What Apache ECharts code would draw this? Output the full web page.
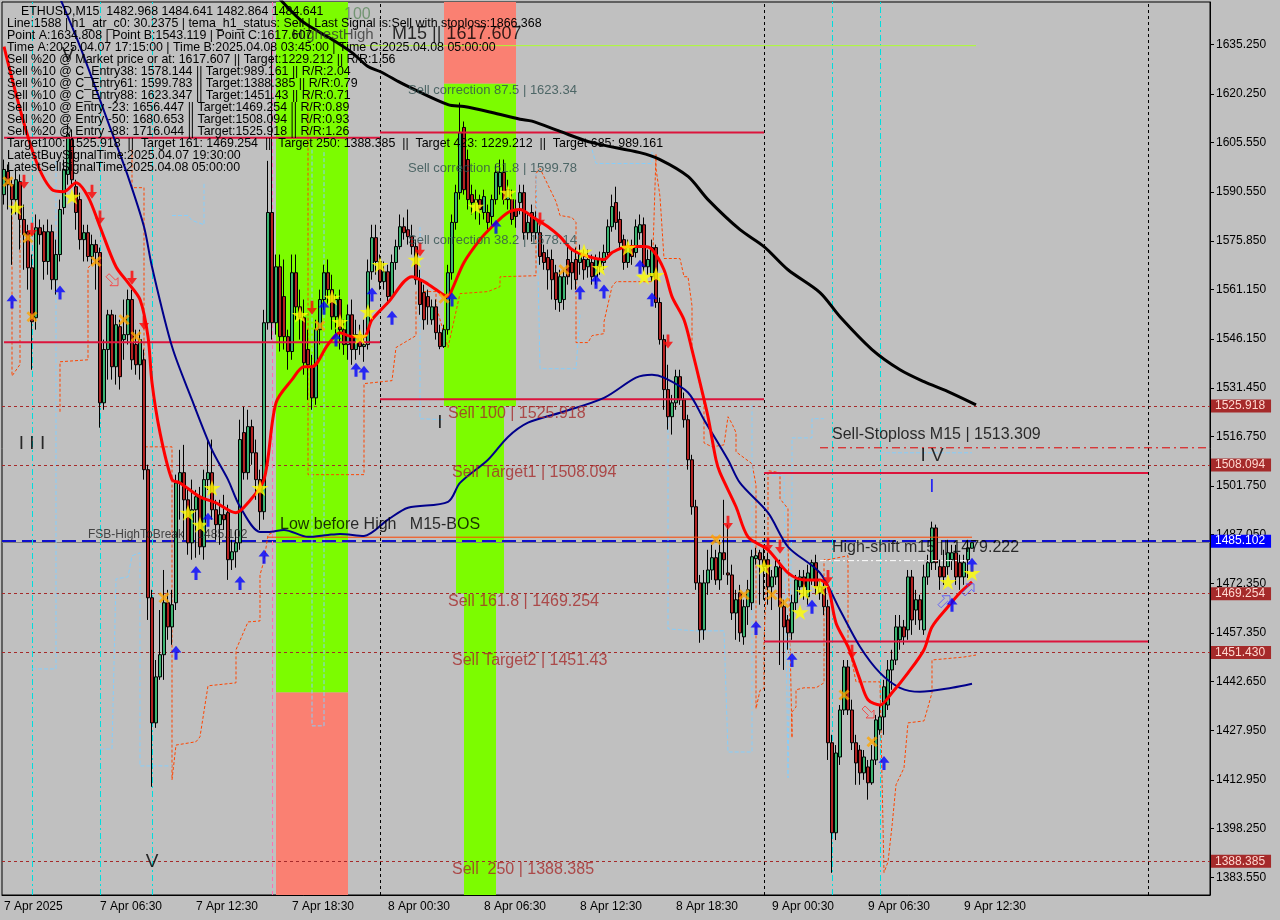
<!DOCTYPE html>
<html><head><meta charset="utf-8">
<script src="https://cdn.jsdelivr.net/npm/echarts@6/dist/echarts.min.js"></script>
<style>html,body{margin:0;padding:0;background:#c0c0c0;}#chart{width:1280px;height:920px;}</style>
</head><body><div id="chart"></div>
<script>
const FONT = '"Liberation Sans", Arial, sans-serif';
// ---------- candles (M15, first bar 7 Apr 00:30) ----------
const opens = [1589.8,1596.8,1592.8,1588.3,1593.7,1582.3,1578.6,1567.7,1552.6,1579.8,1578.6,1569.6,1578.6,1564.1,1571.7,1585.9,1595.9,1606.4,1592.2,1588.3,
1576.2,1578.3,1571.1,1574.7,1572.3,1526.9,1543.0,1553.5,1537.8,1549.9,1546.0,1547.5,1558.1,1544.5,1538.4,1539.9,1506.7,1468.0,1430.2,1444.1,
1450.8,1466.5,1459.2,1466.5,1502.7,1505.8,1497.6,1484.6,1494.6,1498.5,1483.4,1503.7,1505.8,1494.6,1490.1,1493.1,1493.7,1479.5,1481.9,1484.6,
1517.9,1505.8,1519.7,1511.8,1503.7,1494.0,1551.1,1584.4,1551.1,1568.0,1559.0,1546.9,1542.4,1566.2,1555.9,1552.6,1543.0,1537.8,1528.4,1549.0,
1558.1,1566.2,1561.1,1552.9,1558.1,1549.0,1544.5,1553.5,1543.0,1547.5,1543.9,1544.5,1566.5,1576.8,1569.6,1563.5,1566.5,1559.0,1569.3,1574.1,
1580.1,1579.2,1577.1,1574.1,1564.1,1560.2,1559.0,1552.0,1555.9,1548.1,1543.9,1549.0,1566.2,1581.4,1590.4,1610.1,1600.4,1589.8,1587.4,1588.3,
1584.4,1584.4,1583.2,1588.3,1592.2,1596.5,1588.3,1588.3,1585.3,1587.4,1590.4,1578.3,1584.4,1578.3,1578.3,1572.3,1570.8,1570.2,1566.2,1557.2,
1558.1,1570.2,1569.3,1570.2,1569.3,1570.2,1568.0,1569.3,1565.0,1568.0,1569.3,1572.3,1580.1,1587.4,1582.3,1576.2,1569.3,1574.1,1572.3,1578.3,
1580.7,1568.0,1565.0,1573.8,1557.2,1546.0,1530.9,1522.7,1526.9,1534.8,1527.8,1521.8,1509.7,1495.5,1472.5,1458.3,1472.5,1476.4,1480.1,1473.4,
1481.6,1475.5,1474.9,1463.4,1469.5,1456.2,1465.3,1466.5,1479.8,1481.6,1479.5,1479.5,1471.3,1474.3,1477.1,1465.3,1461.3,1457.4,1466.5,1471.3,
1474.3,1468.3,1473.4,1478.6,1469.5,1471.3,1465.3,1424.2,1397.0,1419.9,1434.1,1447.1,1434.1,1424.2,1422.0,1415.1,1416.9,1412.1,1419.0,1428.1,
1432.0,1435.6,1446.2,1449.2,1455.3,1459.2,1458.3,1474.3,1464.3,1467.4,1458.3,1474.3,1478.6,1489.1,1477.4,1477.4,1477.4,1479.5,1481.6,1478.6,
1474.3,1479.5,1482.968];
const closes = [1597.4,1592.8,1588.3,1594.3,1582.3,1577.7,1567.7,1551.4,1579.8,1577.7,1569.6,1578.6,1564.1,1571.7,1585.3,1597.4,1608.0,1594.3,1584.4,1576.2,
1578.3,1571.1,1574.7,1572.3,1526.9,1543.0,1553.5,1537.8,1550.5,1534.8,1547.5,1558.1,1539.9,1538.4,1546.0,1506.7,1468.0,1430.2,1444.1,1450.8,
1466.5,1459.2,1465.9,1502.7,1505.8,1497.6,1484.6,1494.6,1498.5,1483.4,1503.7,1505.8,1494.6,1490.1,1493.1,1491.6,1479.5,1481.9,1484.6,1515.8,
1505.8,1519.7,1511.8,1503.7,1494.0,1551.1,1584.4,1551.1,1568.0,1546.9,1546.9,1542.4,1566.2,1555.9,1552.6,1539.0,1538.4,1528.4,1549.0,1558.1,
1566.2,1561.1,1552.9,1558.1,1549.0,1544.5,1553.5,1543.0,1547.5,1543.9,1544.5,1566.5,1576.8,1569.6,1563.5,1566.5,1559.0,1569.3,1574.1,1580.1,
1578.3,1577.1,1574.1,1564.1,1556.6,1552.0,1555.9,1555.9,1548.1,1543.9,1549.0,1566.2,1581.4,1590.4,1608.5,1591.3,1588.3,1587.4,1588.3,1585.3,
1589.2,1581.4,1588.3,1596.5,1596.5,1588.3,1591.3,1582.3,1583.2,1590.4,1578.3,1581.4,1578.3,1582.3,1571.1,1569.3,1567.1,1564.1,1558.1,1565.0,
1565.0,1565.0,1566.2,1564.1,1572.3,1567.1,1570.2,1565.0,1570.2,1570.2,1572.3,1580.1,1586.2,1581.4,1575.3,1569.3,1574.1,1571.1,1580.1,1580.7,
1568.0,1570.2,1573.8,1557.2,1546.0,1530.9,1522.7,1526.9,1534.8,1527.8,1521.8,1509.7,1495.5,1472.5,1458.3,1472.5,1476.4,1480.1,1473.4,1481.6,
1479.5,1474.9,1463.4,1467.4,1457.4,1465.3,1470.4,1480.4,1480.7,1479.5,1477.4,1471.3,1474.3,1477.4,1465.3,1459.2,1457.4,1466.5,1473.4,1474.3,
1471.3,1475.5,1478.6,1471.3,1471.3,1465.3,1424.2,1397.0,1421.1,1434.1,1447.1,1434.1,1424.2,1418.1,1415.1,1419.9,1412.1,1419.0,1431.1,1432.0,
1441.1,1446.2,1449.2,1459.2,1459.2,1456.2,1474.3,1461.3,1467.4,1461.3,1474.3,1478.6,1489.1,1478.6,1474.3,1474.3,1481.6,1481.6,1474.3,1474.3,
1478.6,1483.1,1484.641];
const lows = [1586.8,1585.3,1568.6,1583.8,1573.2,1567.1,1561.1,1536.9,1549.0,1574.7,1564.1,1565.6,1561.1,1559.6,1569.6,1583.8,1592.8,1592.8,1579.2,1573.2,
1569.6,1569.6,1568.6,1561.1,1519.4,1524.8,1533.9,1533.9,1532.4,1530.9,1539.9,1544.5,1536.9,1535.4,1533.9,1503.7,1461.3,1410.9,1428.7,1443.2,
1443.2,1455.3,1453.8,1464.3,1491.6,1485.5,1481.0,1479.5,1480.1,1481.0,1479.5,1500.6,1491.6,1485.5,1484.0,1488.5,1473.4,1476.4,1477.1,1482.5,
1503.7,1503.7,1508.2,1497.6,1488.5,1491.6,1549.0,1546.0,1547.5,1542.4,1543.0,1536.9,1539.9,1552.0,1546.0,1535.4,1527.8,1524.8,1526.3,1544.5,
1555.0,1556.6,1549.0,1547.5,1543.0,1541.4,1539.9,1538.4,1539.9,1541.4,1539.3,1543.0,1564.1,1565.6,1561.1,1561.1,1556.6,1558.1,1567.1,1573.2,
1576.2,1574.7,1571.7,1562.6,1553.5,1549.0,1550.5,1550.5,1546.0,1543.1,1543.5,1547.5,1564.1,1579.2,1588.3,1589.8,1585.3,1583.8,1582.3,1580.7,
1582.3,1579.2,1580.7,1586.8,1589.8,1586.8,1585.3,1580.7,1579.8,1583.8,1576.2,1576.2,1575.6,1576.2,1568.6,1567.1,1561.1,1558.1,1555.0,1554.4,
1555.0,1562.6,1561.1,1561.1,1565.6,1564.1,1564.7,1562.6,1562.6,1565.6,1567.1,1570.8,1578.6,1579.2,1573.2,1567.1,1567.7,1568.6,1570.8,1576.2,
1566.5,1565.6,1563.5,1555.6,1544.5,1524.8,1518.8,1517.3,1524.8,1526.3,1519.4,1506.7,1493.1,1470.4,1454.4,1455.3,1468.9,1473.4,1471.9,1470.4,
1474.9,1471.9,1461.3,1455.3,1454.7,1453.8,1459.8,1464.3,1478.0,1465.9,1467.4,1465.9,1464.3,1471.9,1447.7,1446.2,1452.3,1455.3,1464.3,1468.9,
1467.4,1465.9,1471.9,1468.9,1467.4,1462.8,1419.0,1384.9,1394.8,1417.5,1432.6,1432.6,1422.0,1411.5,1411.5,1413.0,1407.0,1411.5,1417.5,1426.6,
1426.6,1434.1,1440.2,1447.7,1452.3,1453.8,1455.3,1456.8,1459.8,1458.3,1456.8,1471.9,1476.4,1476.4,1470.4,1471.9,1474.9,1476.4,1471.9,1470.4,
1471.9,1474.0,1482.864];
const highs = [1600.4,1598.9,1594.3,1597.4,1595.9,1586.8,1580.7,1571.7,1583.8,1582.3,1580.7,1582.3,1580.7,1576.2,1588.3,1600.4,1611.0,1609.5,1594.3,1590.4,
1580.7,1580.7,1577.7,1576.2,1573.8,1546.0,1555.0,1555.0,1553.5,1552.0,1558.1,1561.1,1561.1,1549.0,1549.0,1543.0,1508.2,1470.4,1449.2,1464.3,
1476.4,1470.4,1470.4,1505.2,1512.7,1514.2,1500.6,1503.7,1500.6,1501.5,1506.7,1515.8,1515.8,1497.6,1497.6,1499.1,1496.1,1485.5,1488.5,1521.8,
1525.7,1524.8,1521.8,1515.8,1506.7,1555.0,1600.0,1634.8,1571.7,1571.7,1570.2,1549.0,1571.7,1571.7,1561.1,1558.1,1549.0,1541.4,1552.0,1561.1,
1568.6,1570.2,1565.6,1559.6,1561.1,1552.0,1556.6,1558.1,1552.0,1550.5,1552.0,1570.2,1580.7,1580.7,1571.7,1569.6,1568.6,1571.7,1576.2,1583.8,
1582.9,1585.3,1580.7,1576.2,1567.1,1562.6,1561.1,1558.1,1558.1,1550.5,1550.5,1568.6,1583.8,1592.8,1617.6,1611.9,1603.4,1592.8,1591.3,1589.8,
1591.3,1586.8,1589.8,1598.9,1600.4,1600.4,1594.3,1591.3,1588.3,1592.8,1592.8,1583.8,1586.8,1584.7,1580.7,1574.7,1573.2,1573.2,1568.6,1567.1,
1567.1,1574.7,1573.2,1573.8,1574.7,1573.2,1573.2,1571.7,1571.7,1572.6,1574.7,1582.3,1589.8,1592.2,1584.7,1577.7,1576.2,1576.2,1582.3,1583.8,
1582.9,1573.2,1576.2,1574.7,1558.7,1547.5,1538.4,1529.3,1536.9,1536.9,1530.0,1523.3,1511.2,1497.6,1474.9,1476.4,1482.5,1484.0,1482.5,1485.5,
1497.6,1490.1,1478.0,1470.4,1471.9,1467.4,1473.4,1482.5,1483.1,1482.5,1484.0,1481.6,1476.4,1479.5,1479.5,1467.4,1462.8,1468.9,1474.9,1476.4,
1476.4,1478.0,1479.5,1481.0,1473.4,1473.4,1467.4,1426.6,1423.5,1435.6,1449.2,1449.2,1437.2,1426.6,1423.5,1422.0,1419.0,1423.5,1432.6,1435.6,
1443.2,1449.2,1452.3,1462.8,1462.8,1461.3,1476.4,1476.4,1470.4,1468.9,1478.0,1481.0,1491.0,1490.1,1479.5,1482.5,1485.5,1484.0,1484.0,1481.0,
1481.0,1485.5,1484.641];

// ---------- indicator lines: [bar index, price] ----------
const temaLine = [[0,1634.5],[7,1603.4],[12,1591.3],[15,1590.7],[18,1593.4],[21,1589.2],[24,1580.1],[28,1568.0],[31,1563.2],[34,1558.1],[36,1546.9],[37,1533.0],[39,1517.9],[42,1503.7],[44,1502.7],[49,1498.5],[53,1496.7],[58,1493.7],[61,1496.7],[65,1503.7],[68,1526.9],[72,1533.9],[75,1537.8],[77,1537.8],[81,1544.5],[84,1548.1],[87,1546.9],[90,1546.9],[92,1552.0],[96,1557.2],[102,1565.0],[105,1563.5],[108,1561.1],[111,1559.0],[112,1561.1],[115,1569.3],[119,1576.2],[122,1580.1],[126,1584.4],[129,1585.3],[132,1583.2],[136,1580.1],[139,1577.1],[142,1573.2],[146,1571.1],[150,1570.2],[152,1572.3],[156,1574.1],[160,1574.1],[162,1573.2],[165,1567.1],[167,1559.0],[170,1552.0],[172,1542.9],[174,1533.0],[176,1522.7],[178,1509.7],[179,1505.8],[183,1495.5],[186,1486.4],[191,1482.5],[196,1475.5],[200,1473.4],[204,1473.4],[206,1471.3],[208,1460.4],[211,1453.2],[214,1443.2],[216,1437.2],[219,1435.6],[222,1439.3],[226,1445.3],[230,1452.3],[232,1459.2],[236,1465.3],[239,1469.5],[242,1472.8]];
const navyLine = [[13,1652],[19,1634.6],[27,1608.5],[31,1595.3],[35,1580.1],[37,1568.0],[42,1543.9],[47,1527.8],[52,1512.7],[56,1503.7],[59,1495.5],[64,1487.9],[66,1487.9],[70,1488.5],[76,1486.4],[81,1487.0],[84,1487.3],[90,1486.7],[96,1491.6],[101,1495.2],[111,1497.0],[114,1502.7],[121,1509.7],[126,1516.6],[131,1520.9],[139,1523.9],[150,1528.4],[158,1534.5],[162,1535.4],[165,1534.5],[171,1530.0],[175,1521.8],[181,1509.7],[184,1502.7],[191,1493.7],[196,1483.4],[204,1475.5],[209,1464.3],[214,1453.2],[219,1445.3],[224,1440.8],[229,1439.6],[237,1440.8],[242,1442.0]];
const blackLine = [[67,1651.5],[74,1642.7],[79,1638.8],[82,1636.7],[87,1632.7],[91,1628.5],[94,1627.0],[99,1623.7],[101,1622.5],[111,1617.0],[115,1616.4],[122,1614.6],[129,1612.6],[132,1612.0],[139,1608.9],[147,1605.5],[159,1602.5],[164,1600.4],[171,1595.3],[176,1588.3],[184,1579.2],[190,1574.1],[196,1567.1],[204,1560.2],[209,1552.9],[217,1543.0],[224,1536.9],[230,1533.3],[236,1530.3],[243,1526.3]];
// trailing bands (orange-red dashed) and channel (light blue dashed)
const orangeBands = [
 [[2,1589.2],[2,1535.0],[4,1538.5],[4,1580.6]],
 [[14,1524.2],[14,1539.3],[21,1539.9],[21,1567.7],[23,1569.9]],
 [[32,1603.4],[32,1591.9],[35,1591.9],[35,1513.6],[42,1513.6],[42,1413.0],[43,1423.5],[48,1424.5],[49,1426.0],[51,1441.4],[58,1442.3],[58,1452.3],[61,1460.7],[64,1461.0],[64,1474.9],[65,1479.2],[66,1487.0],[68,1488.2]],
 [[76,1620.6],[76,1505.2],[90,1505.2],[90,1532.7],[97,1533.6],[98,1543.6],[103,1547.2],[103,1560.5],[108,1560.5],[108,1556.3],[111,1543.6],[114,1559.9],[121,1560.5],[124,1562.0],[124,1565.0],[133,1565.3],[133,1596.2],[134,1597.7],[138,1587.7],[139,1583.5],[142,1582.9],[143,1581.4],[143,1545.1],[146,1545.1],[147,1547.2],[150,1547.8],[150,1551.4],[152,1562.0],[153,1563.5],[162,1563.5],[163,1601.9],[163,1597.7],[164,1589.2],[165,1570.5],[169,1570.5],[170,1565.0],[171,1565.0],[172,1556.2],[172,1543.6],[175,1526.3],[175,1514.8],[177,1513.6],[180,1514.2],[181,1522.7],[182,1520.6],[183,1517.9],[183,1512.1],[186,1509.4],[187,1508.5],[188,1502.1],[188,1434.5],[189,1440.0],[190,1440.6],[190,1454.8],[191,1484.8],[191,1506.4],[194,1505.8],[194,1497.9],[196,1494.9],[196,1484.9],[197,1425.7],[197,1433.5],[198,1435.0],[198,1440.2],[200,1440.8],[203,1440.8],[205,1442.3],[205,1479.5],[206,1479.5],[211,1480.7],[211,1455.0],[213,1442.6],[219,1442.6],[220,1385.0],[221,1388.2],[222,1399.0],[223,1411.5],[225,1416.6],[226,1430.2],[230,1430.8],[231,1435.0],[232,1439.3],[232,1449.2],[240,1450.1],[243,1450.7]]
];
const blueChannels = [
 [[7,1446.5],[13,1446.5],[13,1600.0]],
 [[24,1422.3],[27,1422.3],[28,1473.7],[31,1474.3],[32,1480.7],[34,1481.6],[34,1417.2],[42,1417.2]],
 [[42,1583.5],[46,1583.5],[47,1582.0],[50,1580.7],[50,1593.4]],
 [[77,1603.4],[77,1429.3],[80,1429.3],[80,1603.4]],
 [[104,1580.0],[104,1522.1],[110,1521.8]],
 [[133,1596.2],[134,1537.2],[143,1537.2],[144,1553.5]],
 [[147,1603.4],[148,1599.2],[162,1599.2],[162,1603.4]],
 [[166,1526.3],[166,1458.6],[173,1458.0],[180,1458.0],[181,1421.4],[187,1421.4],[187,1526.3]],
 [[192,1504.9],[195,1504.9],[196,1413.6],[197,1500.6],[197,1516.3],[202,1516.3],[202,1522.1],[205,1522.1]],
 [[219,1511.8],[242,1511.8]]
];

// ---------- signal markers: [bar index, price] ----------
const stars = [[3,1585.9],[17,1589.2],[46,1493.7],[49,1490.1],[52,1501.2],[64,1501.2],[74,1553.5],[82,1558.7],[84,1551.4],[89,1546.9],[91,1554.4],[94,1568.6],[103,1570.2],[118,1586.2],[126,1590.4],[145,1572.6],[149,1567.7],[156,1573.8],[160,1565.0],[163,1565.6],[190,1477.4],[199,1463.7],[200,1469.8],[204,1471.0],[236,1472.8],[242,1475.5]];
const crosses = [[1,1593.7],[6,1576.8],[7,1552.9],[23,1569.6],[30,1552.0],[33,1546.9],[40,1468.0],[79,1550.2],[110,1558.5],[140,1567.1],[178,1485.5],[185,1468.9],[192,1468.9],[195,1466.5],[210,1438.6],[217,1424.5]];
const upArrows = [[2,1557.5],[14,1560.2],[43,1451.4],[48,1475.5],[51,1491.6],[59,1472.5],[65,1480.4],[80,1555.6],[83,1546.0],[88,1536.9],[90,1536.0],[92,1559.6],[97,1552.6],[112,1558.1],[123,1580.1],[144,1560.2],[148,1563.5],[150,1560.5],[159,1568.0],[162,1558.1],[188,1458.9],[197,1449.2],[202,1465.3],[220,1418.1],[237,1465.9],[242,1478.0]];
const downArrows = [[5,1593.7],[7,1579.2],[22,1590.7],[24,1582.9],[32,1564.7],[35,1551.1],[77,1555.6],[104,1573.2],[134,1582.3],[166,1545.4],[181,1490.7],[191,1484.0],[194,1483.4],[206,1474.3],[212,1451.7]];
const openSellArrows = [[27,1564.1],[216,1433.5]];
const openBuyArrows = [[235,1466.8],[241,1470.4]];

// ---------- levels ----------
const targetLevels = [1525.918, 1508.094, 1469.254, 1451.430, 1388.385];
const breakLevel = 1485.102;
const bidPrice = 1484.641;
const redSegments = [[0,94,1607.0],[94,190,1608.6],[0,94,1545.2],[94,190,1528.0],[190,286,1505.7],[190,286,1454.8]];
const bosSegment = [66,242,1486.3];
const highShiftSegment = [204,242,1479.222];
const stopSegment = [204,301,1513.309];
const pointASegment = [86,243,1634.808];
const greenZones = [[68,86,1439.4,1648.0],[110,128,1525.918,1623.34],[113,125,1469.254,1525.918],[115,123,1378.2,1469.254]];
const salmonZones = [[68,86,1378.2,1439.4],[110,128,1623.34,1648.0]];
const daySeparators = [94,190,286];
const cyanVerticals = [7,24,37,207,219];
const pinkVerticals = [67];

// ---------- axes ----------
const yTicks = [1635.25,1620.25,1605.55,1590.55,1575.85,1561.15,1546.15,1531.45,1516.75,1501.75,1487.05,1472.35,1457.35,1442.65,1427.95,1412.95,1398.25,1383.55];
const xTickIdx = [0,24,48,72,96,120,144,168,192,216,240];
const xTickLabels = ['7 Apr 2025','7 Apr 06:30','7 Apr 12:30','7 Apr 18:30','8 Apr 00:30','8 Apr 06:30','8 Apr 12:30','8 Apr 18:30','9 Apr 00:30','9 Apr 06:30','9 Apr 12:30'];
const nSlots = 302;
const yMin = 1378.2, yMax = 1648.0;

// ---------- texts ----------
const headerFirst = 'ETHUSD,M15  1482.968 1484.641 1482.864 1484.641';
const headerLines = [
 'Line:1588 | h1_atr_c0: 30.2375 | tema_h1_status: Sell | Last Signal is:Sell with stoploss:1866.368',
 'Point A:1634.808 | Point B:1543.119 | Point C:1617.607',
 'Time A:2025.04.07 17:15:00 | Time B:2025.04.08 03:45:00 | Time C:2025.04.08 05:00:00',
 'Sell %20 @ Market price or at: 1617.607 || Target:1229.212 || R/R:1.56',
 'Sell %10 @ C_Entry38: 1578.144 || Target:989.161 || R/R:2.04',
 'Sell %10 @ C_Entry61: 1599.783 || Target:1388.385 || R/R:0.79',
 'Sell %10 @ C_Entry88: 1623.347 || Target:1451.43 || R/R:0.71',
 'Sell %10 @ Entry -23: 1656.447 || Target:1469.254 || R/R:0.89',
 'Sell %20 @ Entry -50: 1680.653 || Target:1508.094 || R/R:0.93',
 'Sell %20 @ Entry -88: 1716.044 || Target:1525.918 || R/R:1.26',
 'Target100: 1525.918  ||  Target 161: 1469.254  ||  Target 250: 1388.385  ||  Target 423: 1229.212  ||  Target 685: 989.161',
 'LatestBuySignalTime:2025.04.07 19:30:00',
 'LatestSellSignalTime:2025.04.08 05:00:00'
];
const annTexts  = ['Sell correction 87.5 | 1623.34','Sell correction 61.8 | 1599.78','Sell correction 38.2 | 1578.14',
 'Sell 100 | 1525.918','Sell Target1 | 1508.094','Sell 161.8 | 1469.254','Sell Target2 | 1451.43','Sell  250 | 1388.385',
 'Sell-Stoploss M15 | 1513.309','High-shift m15 || 1479.222','Low before High   M15-BOS','FSB-HighToBreak    1485.102',
 'HighestHigh','100','M15 || 1617.607'];
const annAnchor = [[101,1621.3],[101,1597.7],[101,1575.9],
 [111,1523.6],[112,1505.8],[111,1466.8],[112,1448.9],[112,1385.8],
 [207,1517.3],[207,1483.1],[69,1490.1],[21,1487.0],
 [72,1638.2],[85,1644.2],[97,1638.2]];
const annKind = ['corr','corr','corr','sell','sell','sell','sell','sell','big','big','big','small','hh','hundred','m15'];
const waveTexts = ['I I I','V','V','I','I V','I'];
const waveAnchor = [[7,1514.5],[37,1388.2],[16,1632.1],[109,1520.9],[232,1510.9],[232,1501.5]];
const waveColor = ['#000','#000','#000','#000','#000','#0000ff'];

// ---------- build ----------
const categories = [];
const t0 = Date.UTC(2025,3,7,0,30);
const MON = ['Jan','Feb','Mar','Apr','May','Jun','Jul','Aug','Sep','Oct','Nov','Dec'];
for (let i = 0; i < nSlots; i++) {
  const d = new Date(t0 + i*15*60000);
  categories.push(d.getUTCDate()+' '+MON[d.getUTCMonth()]+' '+String(d.getUTCHours()).padStart(2,'0')+':'+String(d.getUTCMinutes()).padStart(2,'0'));
}
const candleData = opens.map((o,i)=>[o, closes[i], lows[i], highs[i]]);
const tickSet = new Set(xTickIdx);

const kindStyle = {
  corr: {fontSize:13, color:'#2f4f4f'},
  sell: {fontSize:16, color:'#a52a2a'},
  big: {fontSize:16, color:'#000'},
  small: {fontSize:12, color:'#222'},
  hh: {fontSize:15, color:'#333'},
  hundred: {fontSize:16, color:'#5f8a5f'},
  m15: {fontSize:18, color:'#000'}
};

function seg(s, color, width, type) {
  return {type:'line', data:[[s[0],s[2]],[s[1],s[2]]], symbol:'none', silent:true,
    lineStyle:{color, width, type}, z:4};
}
function poly(pts, color, type, z) {
  return {type:'line', data:pts, symbol:'none', silent:true, lineStyle:{color, width:1, type}, z};
}
function zone(z, color) {
  return [{xAxis:z[0], yAxis:z[2], itemStyle:{color}}, {xAxis:z[1], yAxis:z[3]}];
}

const levelLines = targetLevels.map(v => ({yAxis:v, lineStyle:{color:'#a52a2a', type:[3,3], width:1},
  label:{show:true, position:'end', distance:1, formatter:v.toFixed(3), backgroundColor:'#a52a2a', color:'#ffd8d0',
    padding:[1,6,0,4], fontSize:12, fontFamily:FONT}}));
levelLines.push({yAxis:bidPrice, lineStyle:{color:'#808080', type:'solid', width:1}, label:{show:false}});
levelLines.push({yAxis:breakLevel, lineStyle:{color:'#1010cc', type:[14,6], width:2},
  label:{show:true, position:'end', distance:1, formatter:breakLevel.toFixed(3), backgroundColor:'#0000ff', color:'#ffffff',
    padding:[1,6,0,4], fontSize:12, fontFamily:FONT}});
daySeparators.forEach(i => levelLines.push({xAxis:i, lineStyle:{color:'#000', type:[3,3], width:1}, label:{show:false}}));
cyanVerticals.forEach(i => levelLines.push({xAxis:i, lineStyle:{color:'#00dede', type:[6,3,2,3], width:1}, label:{show:false}}));
pinkVerticals.forEach(i => levelLines.push({xAxis:i, lineStyle:{color:'#ff70b0', type:[4,3], width:1}, label:{show:false}}));

const STAR = 'path://M50,0 L61,35 L98,35 L68,57 L79,91 L50,70 L21,91 L32,57 L2,35 L39,35 Z';
const CROSS = 'path://M0,18 L18,0 L50,32 L82,0 L100,18 L68,50 L100,82 L82,100 L50,68 L18,100 L0,82 L32,50 Z';
const UP = 'path://M50,0 L100,48 L64,48 L64,100 L36,100 L36,48 L0,48 Z';
const DOWN = 'path://M36,0 L64,0 L64,52 L100,52 L50,100 L0,52 L36,52 Z';
const OPEN_DR = 'path://M0,20 L20,0 L62,42 L78,26 L78,78 L26,78 L42,62 Z';
const OPEN_UR = 'path://M0,58 L20,78 L62,36 L78,52 L78,0 L26,0 L42,16 Z';

const annData = annTexts.map((t,i)=>{
  const st = kindStyle[annKind[i]];
  return {value: annAnchor[i], label:{show:true, position:'inside', formatter:t, fontSize:st.fontSize, color:st.color, align:'left', verticalAlign:'middle', fontFamily:FONT}};
});
const waveData = waveTexts.map((t,i)=>({value: waveAnchor[i], label:{show:true, position:'inside', formatter:t, fontSize:19, color:waveColor[i], align:'center', verticalAlign:'middle', fontFamily:FONT}}));

const series = [
  {type:'candlestick', name:'ETHUSD', data:candleData, barWidth:3, z:3,
   itemStyle:{color:'#3cb371', color0:'#b22222', borderColor:'#000', borderColor0:'#000', borderWidth:1},
   markArea:{silent:true, z:1, data: greenZones.map(z=>zone(z,'#7cfc00')).concat(salmonZones.map(z=>zone(z,'#fa8072')))},
   markLine:{silent:true, symbol:['none','none'], z:2, data: levelLines, animation:false}
  }
].concat(orangeBands.map(p=>poly(p,'#ff4500',[3,2],2)))
 .concat(blueChannels.map(p=>poly(p,'#87cefa',[4,2],2)))
 .concat([
  {type:'line', name:'MA slow', data:blackLine, symbol:'none', smooth:0.3, lineStyle:{color:'#000', width:3}, z:5},
  {type:'line', name:'MA mid', data:navyLine, symbol:'none', smooth:0.3, lineStyle:{color:'#00008b', width:2}, z:5},
  {type:'line', name:'TEMA', data:temaLine, symbol:'none', smooth:0.3, lineStyle:{color:'#ff0000', width:3}, z:6},
  seg(bosSegment, '#ff4500', 1, 'solid'),
  seg(highShiftSegment, '#ffffff', 1, [6,3,2,3]),
  seg(stopSegment, '#e00000', 1, [8,4,2,4]),
  seg(pointASegment, '#adff2f', 1, 'solid')
]).concat(redSegments.map(s=>seg(s,'#dc143c',2,'solid'))).concat([
  {type:'scatter', name:'stars', data:stars, symbol:STAR, symbolSize:[17,16], itemStyle:{color:'#ffff00'}, z:8},
  {type:'scatter', name:'crosses', data:crosses, symbol:CROSS, symbolSize:[11,11], itemStyle:{color:'#ffa500'}, z:8},
  {type:'scatter', name:'buy', data:upArrows, symbol:UP, symbolSize:[11,14], itemStyle:{color:'#0000ff'}, z:8},
  {type:'scatter', name:'sell', data:downArrows, symbol:DOWN, symbolSize:[10,14], itemStyle:{color:'#ff0000'}, z:8},
  {type:'scatter', name:'openSell', data:openSellArrows, symbol:OPEN_DR, symbolSize:[12,12], itemStyle:{color:'rgba(0,0,0,0)', borderColor:'#ff3030', borderWidth:1}, z:8},
  {type:'scatter', name:'openBuy', data:openBuyArrows, symbol:OPEN_UR, symbolSize:[12,12], itemStyle:{color:'rgba(0,0,0,0)', borderColor:'#5050ff', borderWidth:1}, z:8},
  {type:'scatter', name:'annotations', data:annData, symbolSize:1, itemStyle:{color:'transparent'}, z:9, silent:true},
  {type:'scatter', name:'waves', data:waveData, symbolSize:1, itemStyle:{color:'transparent'}, z:9, silent:true}
]);

const chart = echarts.init(document.getElementById('chart'), null, {renderer:'canvas'});
chart.setOption({
  animation:false,
  backgroundColor:'#c0c0c0',
  textStyle:{fontFamily:FONT},
  grid:{left:2, top:2, right:70, bottom:25, show:true, borderColor:'#000', borderWidth:1, backgroundColor:'#c0c0c0'},
  xAxis:{type:'category', data:categories, boundaryGap:true,
    axisLine:{lineStyle:{color:'#000'}},
    axisTick:{alignWithLabel:true, length:4, interval:(i)=>tickSet.has(i), lineStyle:{color:'#000'}},
    axisLabel:{interval:(i)=>tickSet.has(i), align:'left', margin:6, color:'#000', fontSize:12, fontFamily:FONT,
      formatter:(v,i)=>{const k = xTickIdx.indexOf(i); return k>=0 ? xTickLabels[k] : '';}},
    splitLine:{show:false}},
  yAxis:{type:'value', position:'right', min:yMin, max:yMax, scale:true,
    axisLine:{show:true, lineStyle:{color:'#000'}},
    axisTick:{show:true, length:4, customValues:yTicks, lineStyle:{color:'#000'}},
    axisLabel:{customValues:yTicks, margin:6, color:'#000', fontSize:12, fontFamily:FONT, formatter:(v)=>v.toFixed(3)},
    splitLine:{show:false}},
  graphic:[
    {type:'text', left:21, top:6, z:100, style:{text:headerFirst, font:'12.4px '+FONT, fill:'#000'}},
    {type:'text', left:7, top:18, z:100, style:{text:headerLines.join('\n'), font:'12.4px '+FONT, lineHeight:12, fill:'#000'}}
  ],
  series
});
</script></body></html>
